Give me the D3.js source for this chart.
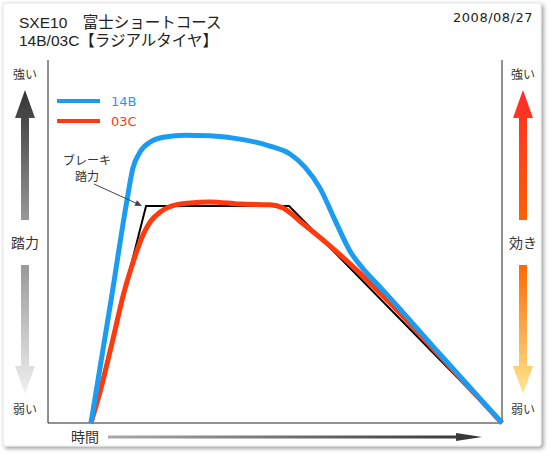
<!DOCTYPE html>
<html><head><meta charset="utf-8">
<script src="https://cdn.jsdelivr.net/npm/d3@7"></script>
<style>
body{margin:0;background:#fff;}
svg{display:block;font-family:"Liberation Sans","Noto Sans CJK JP",sans-serif;}
</style></head>
<body>
<script>
const titleLines = ["SXE10\u3000富士ショートコース", "14B/03C【ラジアルタイヤ】"];
const dateLabel = "2008/08/27";
const seriesNames = ["14B", "03C"];
const seriesColors = ["#1a9cf2", "#ff3a0e"];
// time (0-100), force (0-100)
const blueX = [9.47,13.9,17.4,18.7,20.3,22.5,25.8,30.2,35.7,42.3,48.9,53.3,56.6,59.9,63.2,66.5,69.8,73.1,86.3,100];
const blueY = [0,33.9,61.4,70.2,74.7,77.4,78.8,79.3,79.1,78.2,76.3,74.1,70.5,64.7,55.9,47.4,41.9,37.5,19.0,0];
const redX = [9.47,11.45,14.1,16.7,18.9,20.7,22.5,24.7,27.3,31.3,35.7,42.3,48.9,51.8,55.5,62.1,68.7,75.3,86.3,100];
const redY = [0,8.5,22.0,35.8,44.9,51.2,55.4,58.1,59.8,60.6,60.9,60.3,60.1,59.2,55.6,48.8,41.3,33.1,18.5,0];
const pedalX = [9.47,21.6,53.1,100];
const pedalY = [0,59.8,59.8,0];
const leftLabels = ["強い","踏力","弱い"];
const rightLabels = ["強い","効き","弱い"];
const timeLabel = "時間";
const annotLines = ["ブレーキ","踏力"];

const W=550,H=455;
const svg=d3.select("body").append("svg").attr("width",W).attr("height",H);
const defs=svg.append("defs");
const f=defs.append("filter").attr("id","sh").attr("x","-5%").attr("y","-5%").attr("width","110%").attr("height","110%");
f.append("feDropShadow").attr("dx",2).attr("dy",2).attr("stdDeviation",2).attr("flood-color","#000").attr("flood-opacity",0.4);
svg.append("rect").attr("x",3).attr("y",3).attr("width",538).attr("height",443).attr("rx",2)
  .attr("fill","#fff").attr("stroke","#e4e4e4").attr("filter","url(#sh)");

function grad(id,x1,y1,x2,y2,stops){
  const g=defs.append("linearGradient").attr("id",id).attr("x1",x1).attr("y1",y1).attr("x2",x2).attr("y2",y2);
  stops.forEach(s=>g.append("stop").attr("offset",s[0]).attr("stop-color",s[1]));
}
grad("gUpL",0,0,0,1,[[0,"#333"],[1,"#999"]]);
grad("gDnL",0,0,0,1,[[0,"#999"],[1,"#f0f0f0"]]);
grad("gUpR",0,0,0,1,[[0,"#ff2a2a"],[1,"#ff6000"]]);
grad("gDnR",0,0,0,1,[[0,"#ff6a00"],[1,"#ffe890"]]);
grad("gTime",0,0,1,0,[[0,"#aaa"],[1,"#333"]]);

// titles
svg.selectAll("text.title").data(titleLines).join("text").attr("class","title")
  .attr("x",19).attr("y",(d,i)=>28+i*18).attr("font-size",15.5).attr("fill","#222").text(d=>d);
svg.append("text").attr("x",533).attr("y",22).attr("text-anchor","end").attr("font-size",13)
  .attr("letter-spacing",0.5).attr("font-family","DejaVu Sans, sans-serif").attr("fill","#222").text(dateLabel);

const x=d3.scaleLinear().domain([0,100]).range([48,502]);
const y=d3.scaleLinear().domain([0,100]).range([423,60]);

// frame
svg.append("path").attr("d",`M${x(0)},${y(100)}V${y(0)}H${x(100)}V${y(100)}`)
  .attr("fill","none").attr("stroke","#222").attr("stroke-width",1);

// side arrows
function vArrow(cx,yTop,yBot,up,fillId){
  const hw=10,sw=4,hh=28;
  let d;
  if(up) d=`M${cx},${yTop}L${cx+hw},${yTop+hh}L${cx+sw},${yTop+hh}L${cx+sw},${yBot}L${cx-sw},${yBot}L${cx-sw},${yTop+hh}L${cx-hw},${yTop+hh}Z`;
  else d=`M${cx},${yBot}L${cx+hw},${yBot-hh}L${cx+sw},${yBot-hh}L${cx+sw},${yTop}L${cx-sw},${yTop}L${cx-sw},${yBot-hh}L${cx-hw},${yBot-hh}Z`;
  svg.append("path").attr("d",d).attr("fill",`url(#${fillId})`);
}
vArrow(25,90,220,true,"gUpL");
vArrow(25,265,394,false,"gDnL");
vArrow(523,90,220,true,"gUpR");
vArrow(523,265,394,false,"gDnR");
const labY=[75,243,410], labSz=[12,14,12];
[[25,leftLabels],[523,rightLabels]].forEach(([cx,labs])=>{
  labs.forEach((t,i)=>svg.append("text").attr("x",cx).attr("y",labY[i]).attr("dy","0.36em")
    .attr("text-anchor","middle").attr("font-size",labSz[i]).attr("fill","#333").text(t));
});

// time label & arrow
svg.append("text").attr("x",85).attr("y",437).attr("dy","0.36em").attr("text-anchor","middle")
  .attr("font-size",14).attr("fill","#333").text(timeLabel);
svg.append("path").attr("d","M108,435.5H456V433L482,437L456,441V438.5H108Z").attr("fill","url(#gTime)");

// lines
const line=d3.line().x(d=>x(d[0])).y(d=>y(d[1]));
const smooth=d3.line().x(d=>x(d[0])).y(d=>y(d[1])).curve(d3.curveMonotoneX);
svg.append("path").attr("d",line(d3.zip(pedalX,pedalY))).attr("fill","none").attr("stroke","#000").attr("stroke-width",2).attr("stroke-linejoin","miter");
svg.append("path").attr("d",smooth(d3.zip(redX,redY))).attr("fill","none").attr("stroke",seriesColors[1]).attr("stroke-width",5).attr("stroke-linejoin","round");
svg.append("path").attr("d",smooth(d3.zip(blueX,blueY))).attr("fill","none").attr("stroke",seriesColors[0]).attr("stroke-width",5).attr("stroke-linejoin","round");

// legend
seriesNames.forEach((n,i)=>{
  const ly=101+i*20;
  svg.append("line").attr("x1",57).attr("x2",100).attr("y1",ly).attr("y2",ly).attr("stroke",seriesColors[i]).attr("stroke-width",4);
  svg.append("text").attr("x",111).attr("y",ly).attr("dy","0.36em").attr("font-size",13)
    .attr("font-family","DejaVu Sans, sans-serif").attr("fill",seriesColors[i]).text(n);
});

// annotation
annotLines.forEach((t,i)=>svg.append("text").attr("x",87).attr("y",161+i*16).attr("dy","0.36em")
  .attr("text-anchor","middle").attr("font-size",12).attr("fill","#333").text(t));
const ax0=[94,184], ax1=[x(pedalX[1])-4,y(pedalY[1])];
const ang=Math.atan2(ax1[1]-ax0[1],ax1[0]-ax0[0]);
svg.append("line").attr("x1",ax0[0]).attr("y1",ax0[1]).attr("x2",ax1[0]-6*Math.cos(ang)).attr("y2",ax1[1]-6*Math.sin(ang))
  .attr("stroke","#444").attr("stroke-width",1);
const hl=7,hw=3;
const bx=ax1[0]-hl*Math.cos(ang), by=ax1[1]-hl*Math.sin(ang);
svg.append("path").attr("d",`M${ax1[0]},${ax1[1]}L${bx-hw*Math.sin(ang)},${by+hw*Math.cos(ang)}L${bx+hw*Math.sin(ang)},${by-hw*Math.cos(ang)}Z`).attr("fill","#444");
</script>
</body></html>
